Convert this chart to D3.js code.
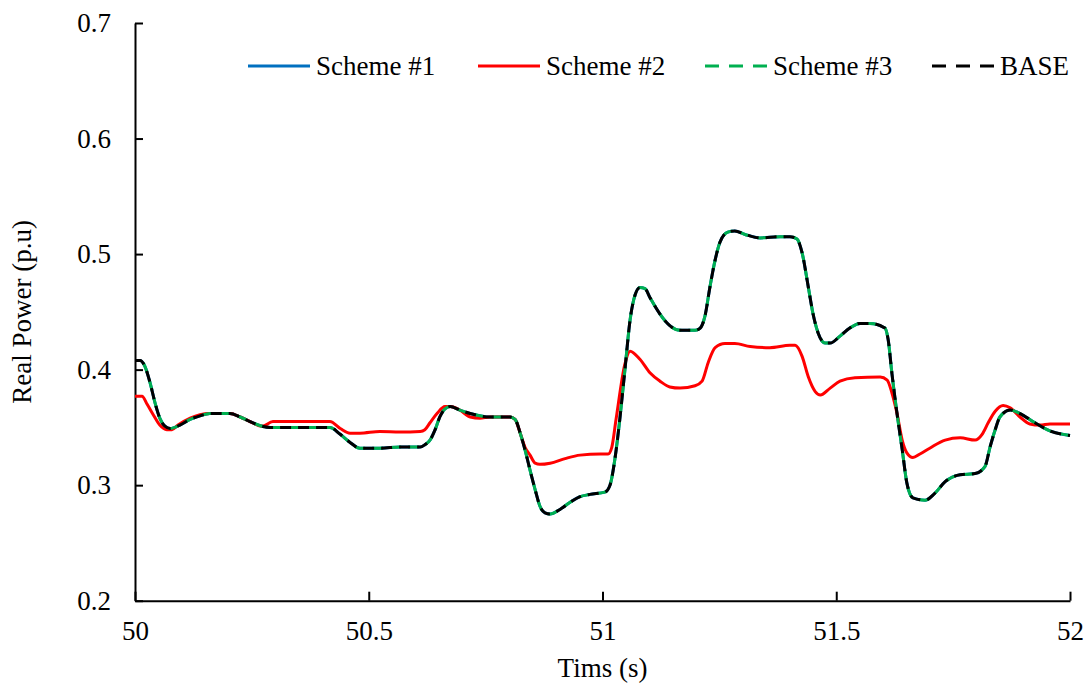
<!DOCTYPE html>
<html>
<head>
<meta charset="utf-8">
<script src="https://cdn.jsdelivr.net/npm/d3@7"></script>
<style>
  html, body { margin: 0; padding: 0; background: #fff; }
  svg { display: block; }
  text { font-family: "Liberation Serif", "Times New Roman", serif; fill: #000; }
</style>
</head>
<body>
<svg id="chart" width="1091" height="692"></svg>
<script>
// Time samples (s) and real power (p.u) for the base case; Scheme #1 and #3 track it
const baseTime = [50.000,50.011,50.021,50.032,50.043,50.053,50.064,50.075,50.096,50.118,50.139,50.160,50.203,50.225,50.246,50.272,50.289,50.417,50.439,50.460,50.481,50.524,50.567,50.610,50.620,50.631,50.642,50.652,50.663,50.674,50.695,50.717,50.759,50.802,50.813,50.824,50.834,50.845,50.856,50.866,50.877,50.888,50.909,50.930,50.952,50.973,51.005,51.016,51.027,51.037,51.048,51.059,51.070,51.080,51.091,51.102,51.123,51.144,51.166,51.198,51.209,51.219,51.230,51.241,51.251,51.268,51.283,51.305,51.337,51.380,51.401,51.416,51.427,51.440,51.450,51.461,51.476,51.487,51.508,51.529,51.551,51.572,51.604,51.611,51.619,51.630,51.641,51.651,51.664,51.690,51.711,51.733,51.765,51.797,51.818,51.829,51.840,51.850,51.872,51.893,51.925,51.957,52.000];
const basePower = [0.408,0.408,0.403,0.389,0.371,0.358,0.351,0.349,0.352,0.357,0.360,0.362,0.362,0.359,0.355,0.351,0.350,0.350,0.344,0.337,0.332,0.332,0.333,0.333,0.335,0.339,0.348,0.359,0.366,0.368,0.365,0.362,0.359,0.359,0.357,0.345,0.331,0.313,0.296,0.282,0.276,0.275,0.279,0.285,0.290,0.292,0.294,0.300,0.324,0.357,0.400,0.443,0.465,0.471,0.470,0.462,0.448,0.438,0.434,0.434,0.436,0.446,0.472,0.495,0.510,0.519,0.520,0.517,0.514,0.515,0.515,0.513,0.501,0.472,0.449,0.432,0.423,0.423,0.429,0.436,0.440,0.440,0.436,0.426,0.397,0.362,0.331,0.302,0.289,0.287,0.293,0.303,0.309,0.310,0.316,0.333,0.348,0.359,0.365,0.362,0.354,0.347,0.343];
const scheme1Power = basePower.slice();
const scheme3Power = basePower.slice();

// Scheme #2 has its own response
const scheme2Time = [50.000,50.015,50.026,50.039,50.053,50.068,50.079,50.092,50.118,50.139,50.160,50.203,50.225,50.246,50.272,50.295,50.417,50.439,50.460,50.481,50.524,50.567,50.610,50.620,50.631,50.646,50.663,50.674,50.695,50.717,50.738,50.759,50.802,50.813,50.824,50.834,50.845,50.856,50.866,50.888,50.920,50.952,50.995,51.012,51.020,51.029,51.048,51.059,51.080,51.102,51.123,51.144,51.166,51.198,51.213,51.226,51.241,51.262,51.283,51.316,51.358,51.401,51.412,51.427,51.440,51.455,51.466,51.487,51.508,51.540,51.594,51.609,51.619,51.630,51.641,51.651,51.664,51.679,51.700,51.733,51.765,51.797,51.812,51.825,51.840,51.857,51.872,51.893,51.914,51.936,51.957,52.000];
const scheme2Power = [0.377,0.377,0.370,0.361,0.352,0.348,0.348,0.352,0.358,0.361,0.362,0.362,0.359,0.355,0.351,0.355,0.355,0.349,0.345,0.345,0.3465,0.346,0.3465,0.348,0.354,0.362,0.368,0.368,0.365,0.359,0.358,0.359,0.359,0.357,0.345,0.333,0.326,0.319,0.318,0.319,0.323,0.326,0.327,0.327,0.333,0.357,0.405,0.416,0.409,0.397,0.390,0.385,0.384,0.386,0.390,0.406,0.419,0.4225,0.4225,0.420,0.419,0.421,0.421,0.4115,0.394,0.381,0.378,0.384,0.390,0.393,0.3936,0.391,0.380,0.362,0.339,0.328,0.324,0.327,0.332,0.339,0.341,0.339,0.344,0.354,0.364,0.369,0.367,0.359,0.353,0.352,0.353,0.353];

const xTicks = [50, 50.5, 51, 51.5, 52];
const yTicks = [0.2, 0.3, 0.4, 0.5, 0.6, 0.7];
const seriesNames = ["Scheme #1", "Scheme #2", "Scheme #3", "BASE"];
const seriesColors = ["#0070C0", "#FF0000", "#00B050", "#000000"];

const svg = d3.select("#chart");
const plotLeft = 135, plotRight = 1070, plotTop = 23, plotBottom = 600.7;

const x = d3.scaleLinear().domain([50, 52]).range([plotLeft, plotRight]);
const y = d3.scaleLinear().domain([0.2, 0.7]).range([plotBottom, plotTop]);

const fontSize = 27;

// Y axis with inward ticks
const yAxis = svg.append("g").attr("transform", `translate(${plotLeft},0)`)
  .call(d3.axisLeft(y).tickValues(yTicks).tickSizeInner(-8).tickSizeOuter(0).tickPadding(24)
    .tickFormat(d3.format(".1f")));
// X axis with inward ticks
const xAxis = svg.append("g").attr("transform", `translate(0,${plotBottom})`)
  .call(d3.axisBottom(x).tickValues(xTicks).tickSizeInner(-9).tickSizeOuter(0).tickPadding(20)
    .tickFormat(d => String(d)));

[yAxis, xAxis].forEach(g => {
  g.select(".domain").attr("stroke", "#000").attr("stroke-width", 2);
  g.selectAll(".tick line").attr("stroke", "#000").attr("stroke-width", 2);
  g.selectAll(".tick text").attr("font-family", "Liberation Serif, serif")
    .attr("font-size", fontSize).attr("fill", "#000");
});

// Axis titles
svg.append("text").attr("x", (plotLeft + plotRight) / 2).attr("y", 677)
  .attr("text-anchor", "middle").attr("font-size", fontSize).text("Tims (s)");
svg.append("text").attr("transform", `translate(31,${(plotTop + plotBottom) / 2}) rotate(-90)`)
  .attr("text-anchor", "middle").attr("font-size", fontSize).text("Real Power (p.u)");

// Lines
const lineGen = d3.line().curve(d3.curveMonotoneX);
const pts = (ts, vs) => ts.map((t, i) => [x(t), y(vs[i])]);

const dash = "11,7";
const series = [
  { data: pts(baseTime, scheme1Power), color: seriesColors[0], dash: null, offset: 0 },
  { data: pts(scheme2Time, scheme2Power), color: seriesColors[1], dash: null, offset: 0 },
  { data: pts(baseTime, scheme3Power), color: seriesColors[2], dash: dash, offset: 9 },
  { data: pts(baseTime, basePower), color: seriesColors[3], dash: dash, offset: 0 }
];

series.forEach(s => {
  svg.append("path").attr("d", lineGen(s.data))
    .attr("fill", "none").attr("stroke", s.color).attr("stroke-width", 3)
    .attr("stroke-dasharray", s.dash).attr("stroke-dashoffset", s.offset)
    .attr("stroke-linejoin", "round");
});

// Legend
const legendX = [248, 478, 705, 932];
const legendY = 66;
seriesNames.forEach((name, i) => {
  const g = svg.append("g");
  g.append("line").attr("x1", legendX[i]).attr("x2", legendX[i] + 62)
    .attr("y1", legendY).attr("y2", legendY)
    .attr("stroke", seriesColors[i]).attr("stroke-width", 3)
    .attr("stroke-dasharray", i >= 2 ? "14,10" : null);
  g.append("text").attr("x", legendX[i] + 68).attr("y", legendY + 9)
    .attr("font-size", fontSize).text(name);
});
</script>
</body>
</html>
